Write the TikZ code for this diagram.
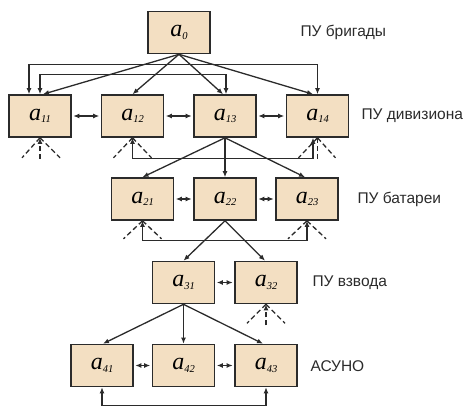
\documentclass[tikz,border=0pt]{standalone}
\usepackage{fontspec}
\setmainfont{Liberation Serif}
\newfontfamily\labelfont{Liberation Sans}
\usetikzlibrary{arrows.meta,calc}
\definecolor{boxfill}{HTML}{F3DFC2}
\definecolor{ink}{HTML}{2B2B2B}
\newcommand\elem[1]{{\fontsize{24}{24}\selectfont\itshape a}\raisebox{-2.5pt}{\fontsize{10.5}{10.5}\selectfont\itshape #1}}
\tikzset{
  unit/.style={draw=ink, fill=boxfill, line width=1.6pt, minimum width=62pt,
    minimum height=42pt, inner sep=0pt},
  level/.style={anchor=west, text=ink, font=\labelfont\fontsize{15.5}{15.5}\selectfont},
  link/.style={draw=ink, line width=1.3pt},
  fanline/.style={draw=ink, line width=1.3pt, dash pattern=on 5pt off 3pt},
}
\begin{document}
\begin{tikzpicture}[x=1pt, y=-1pt, >={Latex[length=6pt,width=5pt]}]
\useasboundingbox (0,0) rectangle (463,407);

% control units
\node[unit] (a0)  at (179,32.5) {\elem{0}};
\node[unit] (a11) at (40,116)   {\elem{11}};
\node[unit] (a12) at (132.5,116){\elem{12}};
\node[unit] (a13) at (225,116)  {\elem{13}};
\node[unit] (a14) at (317.5,116){\elem{14}};
\node[unit] (a21) at (142.5,199){\elem{21}};
\node[unit] (a22) at (225,199)  {\elem{22}};
\node[unit] (a23) at (307,199)  {\elem{23}};
\node[unit] (a31) at (183.5,282.5){\elem{31}};
\node[unit] (a32) at (266,282.5){\elem{32}};
\node[unit] (a41) at (102,365.5){\elem{41}};
\node[unit] (a42) at (183.5,365.5){\elem{42}};
\node[unit] (a43) at (266,365.5){\elem{43}};

% level captions
\node[level] (l0) at (297,32)  {ПУ бригады};
\node[level] (l1) at (358,116) {ПУ дивизиона};
\node[level] (l2) at (354,199) {ПУ батареи};
\node[level] (l3) at (309,283) {ПУ взвода};
\node[level] (l4) at (307,366) {АСУНО};

% brigade to battalions
\draw[link,->] (a0.south) -- ([xshift=3pt]a11.north);
\draw[link,->] (a0.south) -- (a12.north);
\draw[link,->] (a0.south) -- ([xshift=-2pt]a13.north);
\draw[link,->] (a0.south) -- ([xshift=-4.5pt]a14.north);
\draw[link,<->] ([xshift=-11pt]a11.north) |- ([yshift=30pt]a14.north) -- (a14.north);
\draw[link,<->] (a11.north) |- ([yshift=20pt,xshift=1pt]a13.north) -- ([xshift=1pt]a13.north);

% battalions among themselves
\draw[link,<->] ([xshift=1.5pt]a11.east) -- ([xshift=-1.5pt]a12.west);
\draw[link,<->] ([xshift=1.5pt]a12.east) -- ([xshift=-1.5pt]a13.west);
\draw[link,<->] ([xshift=1.5pt]a13.east) -- ([xshift=-1.5pt]a14.west);

% outside links of battalions
\draw[fanline] (a11.south) -- ++(-18,20);
\draw[fanline] (a11.south) -- ++(20,20);
\draw[fanline,->] ([yshift=-21pt]a11.south) -- (a11.south);
\draw[fanline] (a12.south) -- ++(-19,20);
\draw[fanline] (a12.south) -- ++(19,20);
\draw[fanline] (a14.south) -- ++(-19,20);
\draw[fanline] (a14.south) -- ++(18,20);
\draw[fanline] ([yshift=-21pt]a14.south) -- (a14.south);
\draw[link,<->] (a12.south) |- ([yshift=-21pt,xshift=-4.5pt]a14.south) -- ([xshift=-4.5pt]a14.south);

% battalion to batteries
\draw[link,->] (a13.south) -- (a21.north);
\draw[link,->] (a13.south) -- (a22.north);
\draw[link,->] (a13.south) -- ([xshift=-2pt]a23.north);
\draw[link,<->] ([xshift=1.5pt]a21.east) -- ([xshift=-1.5pt]a22.west);
\draw[link,<->] ([xshift=1.5pt]a22.east) -- ([xshift=-1.5pt]a23.west);
\draw[fanline] (a21.south) -- ++(-19,18);
\draw[fanline] (a21.south) -- ++(19,18);
\draw[fanline] (a23.south) -- ++(-19,18);
\draw[fanline] (a23.south) -- ++(19,18);
\draw[link,<->] (a21.south) |- ([yshift=-20pt]a23.south) -- (a23.south);

% battery to platoons
\draw[link,->] (a22.south) -- (a31.north);
\draw[link,->] (a22.south) -- ([xshift=-1pt]a32.north);
\draw[link,<->] ([xshift=1.5pt]a31.east) -- ([xshift=-1.5pt]a32.west);
\draw[fanline] (a32.south) -- ++(-19,19);
\draw[fanline] (a32.south) -- ++(19,19);
\draw[fanline,->] ([yshift=-21pt]a32.south) -- (a32.south);

% platoon to fire control systems
\draw[link,->] (a31.south) -- ([xshift=1pt]a41.north);
\draw[link,->] (a31.south) -- (a42.north);
\draw[link,->] (a31.south) -- ([xshift=-3pt]a43.north);
\draw[link,<->] ([xshift=1.5pt]a41.east) -- ([xshift=-1.5pt]a42.west);
\draw[link,<->] ([xshift=1.5pt]a42.east) -- ([xshift=-1.5pt]a43.west);
\draw[link,<->] (a41.south) |- ([yshift=-18pt]a43.south) -- (a43.south);
\end{tikzpicture}
\end{document}
